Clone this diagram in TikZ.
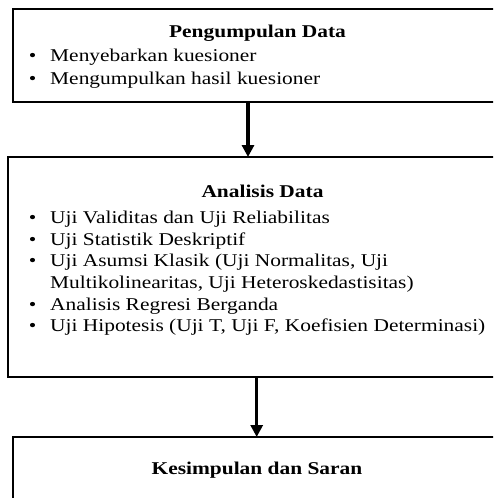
\documentclass[tikz,border=0pt]{standalone}
\usepackage{fontspec}
\setmainfont{Liberation Serif}[FakeStretch=1.19]
\usetikzlibrary{arrows.meta,calc}
\begin{document}
\begin{tikzpicture}[x=1pt,y=-1pt,
 box/.style={draw,line width=1.8pt,rectangle,anchor=north west,inner sep=0pt,outer sep=0pt},
 ttl/.style={anchor=base,font=\fontsize{18}{21}\selectfont\bfseries,inner sep=0pt},
 itm/.style={anchor=base west,font=\fontsize{18}{21}\selectfont,inner sep=0pt},
 bul/.style={anchor=base,font=\fontsize{18}{21}\selectfont,inner sep=0pt},
 arr/.style={line width=3.5pt,-{Triangle[width=12pt,length=12pt]}}]
\useasboundingbox (0,0) rectangle (493,498);
\clip (0,0) rectangle (493,498);
% boxes
\node[box,minimum width=489pt,minimum height=93pt] (b1) at (13,9) {};
\node[box,minimum width=509pt,minimum height=220pt] (b2) at (8,157) {};
\node[box,minimum width=488pt,minimum height=90pt] (b3) at (13,437) {};
% box 1 text
\node[ttl] (t1) at (257.5,37) {Pengumpulan Data};
\node[bul] (p1) at (32.5,61) {•};
\node[itm] (i1) at (50,61) {Menyebarkan kuesioner};
\node[bul] (p2) at (32.5,84) {•};
\node[itm] (i2) at (50,84) {Mengumpulkan hasil kuesioner};
% box 2 text
\node[ttl] (t2) at (262.5,197) {Analisis Data};
\node[bul] (q1) at (32.5,223) {•};
\node[itm] (j1) at (50,223) {Uji Validitas dan Uji Reliabilitas};
\node[bul] (q2) at (32.5,245) {•};
\node[itm] (j2) at (50,245) {Uji Statistik Deskriptif};
\node[bul] (q3) at (32.5,266.5) {•};
\node[itm] (j3) at (50,266.5) {Uji Asumsi Klasik (Uji Normalitas, Uji};
\node[itm] (j4) at (50,288) {Multikolinearitas, Uji Heteroskedastisitas)};
\node[bul] (q5) at (32.5,310) {•};
\node[itm] (j5) at (50,310) {Analisis Regresi Berganda};
\node[bul] (q6) at (32.5,331.5) {•};
\node[itm] (j6) at (50,331.5) {Uji Hipotesis (Uji T, Uji F, Koefisien Determinasi)};
% box 3 text
\node[ttl] (t3) at (257,474) {Kesimpulan dan Saran};
% arrows
\draw[arr] ($(b1.south west)+(235,0)$) -- ($(b2.north west)+(240,0)$);
\draw[arr] ($(b2.south west)+(248.7,0)$) -- ($(b3.north west)+(243.7,0)$);
\end{tikzpicture}
\end{document}
